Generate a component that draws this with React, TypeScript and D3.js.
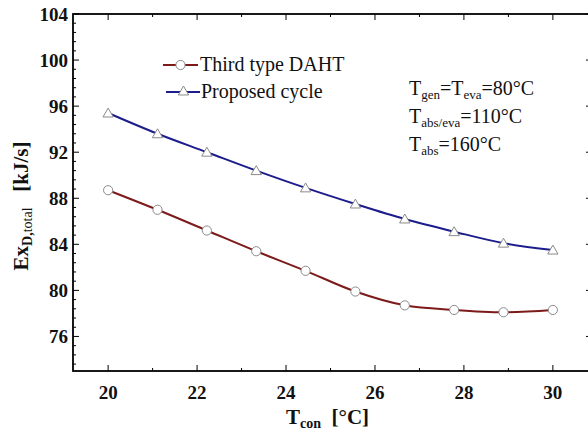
import React from 'react';
import * as d3 from 'd3';

const width = 588;
const height = 432;
const margin = { left: 73, right: -4, top: 14, bottom: 61 };

// condenser temperature [°C]
const tCon = [20, 21.11, 22.22, 23.33, 24.44, 25.56, 26.67, 27.78, 28.89, 30];
// exergy destruction [kJ/s]
const thirdType = [88.7, 87.0, 85.2, 83.4, 81.7, 79.9, 78.7, 78.3, 78.1, 78.3];
const proposed = [95.4, 93.6, 92.0, 90.4, 88.9, 87.5, 86.2, 85.1, 84.1, 83.5];

const xTicks = [20, 22, 24, 26, 28, 30];
const xMinor = [21, 23, 25, 27, 29];
const yTicks = [76, 80, 84, 88, 92, 96, 100, 104];
const yMinor = [103.2, 102.4, 101.6, 100.8, 99.2, 98.4, 97.6, 96.8, 95.2, 94.4, 93.6, 92.8, 91.2, 90.4, 89.6, 88.8,
  87.2, 86.4, 85.6, 84.8, 83.2, 82.4, 81.6, 80.8, 79.2, 78.4, 77.6, 76.8, 75.2, 74.4, 73.6];

const red = '#7d1a1a';
const blue = '#1c1c8c';
const marker = '#8a8a8a';
const serif = "'Times New Roman', Times, 'Liberation Serif', Tinos, 'DejaVu Serif', 'Noto Serif', serif";

const x = d3.scaleLinear().domain([19.21, 30.88]).range([margin.left, width - margin.right]);
const y = d3.scaleLinear().domain([73, 104]).range([height - margin.bottom, margin.top]);

const line = d3
  .line<number>()
  .x((d, i) => x(tCon[i]))
  .y(d => y(d))
  .curve(d3.curveCatmullRom.alpha(0.5));

const tri = d3.symbol().type(d3.symbolTriangle).size(46);

const Circle = ({ cx, cy }: { cx: number; cy: number }) => (
  <circle cx={cx} cy={cy} r={4.6} fill="#fff" stroke={marker} strokeWidth={1} />
);
const Tri = ({ cx, cy }: { cx: number; cy: number }) => (
  <path d={tri() || ''} transform={`translate(${cx},${cy + 1})`} fill="#fff" stroke={marker} strokeWidth={1} />
);

const App = () => {
  const x0 = margin.left;
  const x1 = width - margin.right;
  const y0 = height - margin.bottom;
  const y1 = margin.top;
  return (
    <svg width={width} height={height} style={{ position: 'absolute', left: 0, top: 0, background: '#fff', fontFamily: serif }}>
      {/* ticks, inside on every side */}
      <g stroke="#000" strokeWidth={1}>
        {xTicks.map(t => (
          <g key={'xt' + t}>
            <line x1={x(t)} x2={x(t)} y1={y0} y2={y0 - 6} />
            <line x1={x(t)} x2={x(t)} y1={y1} y2={y1 + 6} />
          </g>
        ))}
        {xMinor.map(t => (
          <g key={'xm' + t}>
            <line x1={x(t)} x2={x(t)} y1={y0} y2={y0 - 3} />
            <line x1={x(t)} x2={x(t)} y1={y1} y2={y1 + 3} />
          </g>
        ))}
        {yTicks.map(t => (
          <g key={'yt' + t}>
            <line x1={x0} x2={x0 + 6} y1={y(t)} y2={y(t)} />
            <line x1={x1} x2={x1 - 6} y1={y(t)} y2={y(t)} />
          </g>
        ))}
        {yMinor.map(t => (
          <g key={'ym' + t}>
            <line x1={x0} x2={x0 + 3} y1={y(t)} y2={y(t)} />
            <line x1={x1} x2={x1 - 3} y1={y(t)} y2={y(t)} />
          </g>
        ))}
      </g>
      <rect x={x0} y={y1} width={x1 - x0} height={y0 - y1} fill="none" stroke="#000" strokeWidth={1.8} />

      {/* tick labels */}
      <g fontSize={19} fontWeight="bold" fill="#111" style={{ fontFamily: serif }}>
        {xTicks.map(t => (
          <text key={'xl' + t} x={x(t)} y={y0 + 28} textAnchor="middle">{t}</text>
        ))}
        {yTicks.map(t => (
          <text key={'yl' + t} x={x0 - 5} y={y(t) + 6.5} textAnchor="end">{t}</text>
        ))}
      </g>

      {/* axis titles */}
      <text x={x(24.0)} y={424} fontSize={21} fontWeight="bold" fill="#111" style={{ fontFamily: serif }}>
        T<tspan fontSize={14} dy={4}>con</tspan>
        <tspan dy={-4} xmlSpace="preserve">{'  [°C]'}</tspan>
      </text>
      <text transform="translate(28,206) rotate(-90)" textAnchor="middle" fontSize={21} fontWeight="bold" fill="#111" style={{ fontFamily: serif }}>
        Ex<tspan fontSize={14} dy={4}>D,</tspan>
        <tspan fontSize={14} fontWeight="normal">total</tspan>
        <tspan dy={-4} xmlSpace="preserve">{'   [kJ/s]'}</tspan>
      </text>

      {/* series */}
      <path d={line(thirdType) || ''} fill="none" stroke={red} strokeWidth={2} />
      <path d={line(proposed) || ''} fill="none" stroke={blue} strokeWidth={2} />
      {thirdType.map((v, i) => (
        <Circle key={'c' + i} cx={x(tCon[i])} cy={y(v)} />
      ))}
      {proposed.map((v, i) => (
        <Tri key={'t' + i} cx={x(tCon[i])} cy={y(v)} />
      ))}

      {/* legend */}
      <line x1={163} x2={198} y1={65} y2={65} stroke={red} strokeWidth={2} />
      <Circle cx={180.5} cy={65} />
      <text x={200} y={71} fontSize={20} fill="#111" style={{ fontFamily: serif }}>Third type DAHT</text>
      <line x1={166} x2={200} y1={92} y2={92} stroke={blue} strokeWidth={2} />
      <Tri cx={183.5} cy={91} />
      <text x={201} y={98} fontSize={20} fill="#111" style={{ fontFamily: serif }}>Proposed cycle</text>

      {/* operating conditions */}
      <g fontSize={20} fill="#111" style={{ fontFamily: serif }}>
        <text x={409} y={95}>
          T<tspan fontSize={13} dy={4}>gen</tspan>
          <tspan dy={-4}>=T</tspan>
          <tspan fontSize={13} dy={4}>eva</tspan>
          <tspan dy={-4}>=80°C</tspan>
        </text>
        <text x={409} y={123}>
          T<tspan fontSize={13} dy={4}>abs/eva</tspan>
          <tspan dy={-4}>=110°C</tspan>
        </text>
        <text x={409} y={151}>
          T<tspan fontSize={13} dy={4}>abs</tspan>
          <tspan dy={-4}>=160°C</tspan>
        </text>
      </g>
    </svg>
  );
};

export default App;
